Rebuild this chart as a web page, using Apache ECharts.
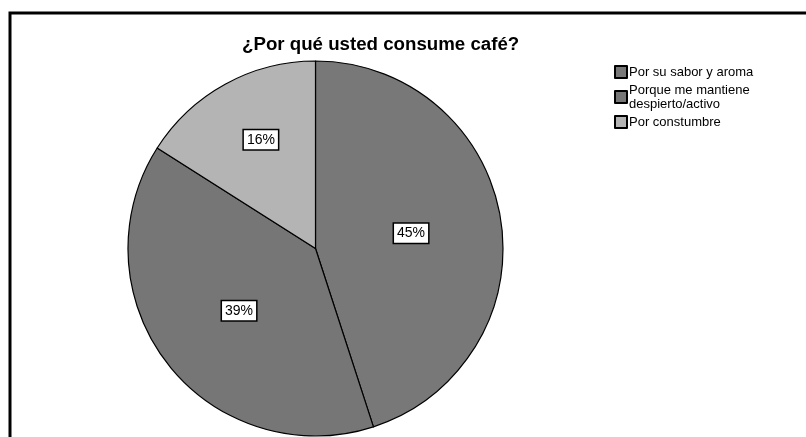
<!DOCTYPE html>
<html>
<head>
<meta charset="utf-8">
<script src="https://cdn.jsdelivr.net/npm/echarts@6/dist/echarts.min.js"></script>
<style>
  html, body { margin: 0; padding: 0; background: #fff; }
  #chart { width: 806px; height: 437px; }
</style>
</head>
<body>
<div id="chart"></div>
<script>
// Survey answers: why do you drink coffee?
const titleText = '¿Por qué usted consume café?';
const categories = ['Por su sabor y aroma', 'Porque me mantiene despierto/activo', 'Por constumbre'];
const percentages = [45, 39, 16];

// Slice fills and per-slice label nudges
const sliceColors = ['#787878', '#767676', '#b4b4b4'];
const labelOffsets = [[0, 0], [0, 3], [-8, -24]];

const FONT = '"Liberation Sans", Arial, sans-serif';

const chart = echarts.init(document.getElementById('chart'), null, { renderer: 'canvas' });

const seriesData = categories.map((name, i) => ({
  name: name,
  value: percentages[i],
  itemStyle: { color: sliceColors[i] },
  label: { offset: labelOffsets[i] }
}));

chart.setOption({
  backgroundColor: '#ffffff',
  animation: false,
  title: {
    text: titleText,
    left: 242,
    top: 35,
    padding: 0,
    textStyle: { fontFamily: FONT, fontSize: 18.7, fontWeight: 'bold', color: '#000' }
  },
  legend: {
    orient: 'vertical',
    left: 614,
    top: 65,
    padding: 0,
    itemWidth: 12,
    itemHeight: 12,
    itemGap: 4,
    icon: 'rect',
    selectedMode: false,
    formatter: name => name.replace(' despierto', '\ndespierto'),
    textStyle: { fontFamily: FONT, fontSize: 13, lineHeight: 14, color: '#000', padding: [0, 0, 0, -3] }
  },
  graphic: [{
    type: 'rect',
    shape: { x: 10, y: 13, width: 900, height: 600 },
    style: { fill: 'none', stroke: '#000', lineWidth: 3 },
    silent: true
  }],
  series: [{
    type: 'pie',
    center: [315.5, 248.5],
    radius: 187.5,
    startAngle: 90,
    clockwise: true,
    avoidLabelOverlap: false,
    itemStyle: { borderColor: '#000', borderWidth: 1.2 },
    emphasis: { disabled: true },
    label: {
      show: true,
      position: 'inside',
      formatter: p => p.value + '%',
      fontFamily: FONT,
      fontSize: 14,
      color: '#000',
      backgroundColor: '#fff',
      borderColor: '#000',
      borderWidth: 1.5,
      padding: [3, 3, 2, 3]
    },
    labelLine: { show: false },
    data: seriesData
  }]
});
</script>
</body>
</html>
